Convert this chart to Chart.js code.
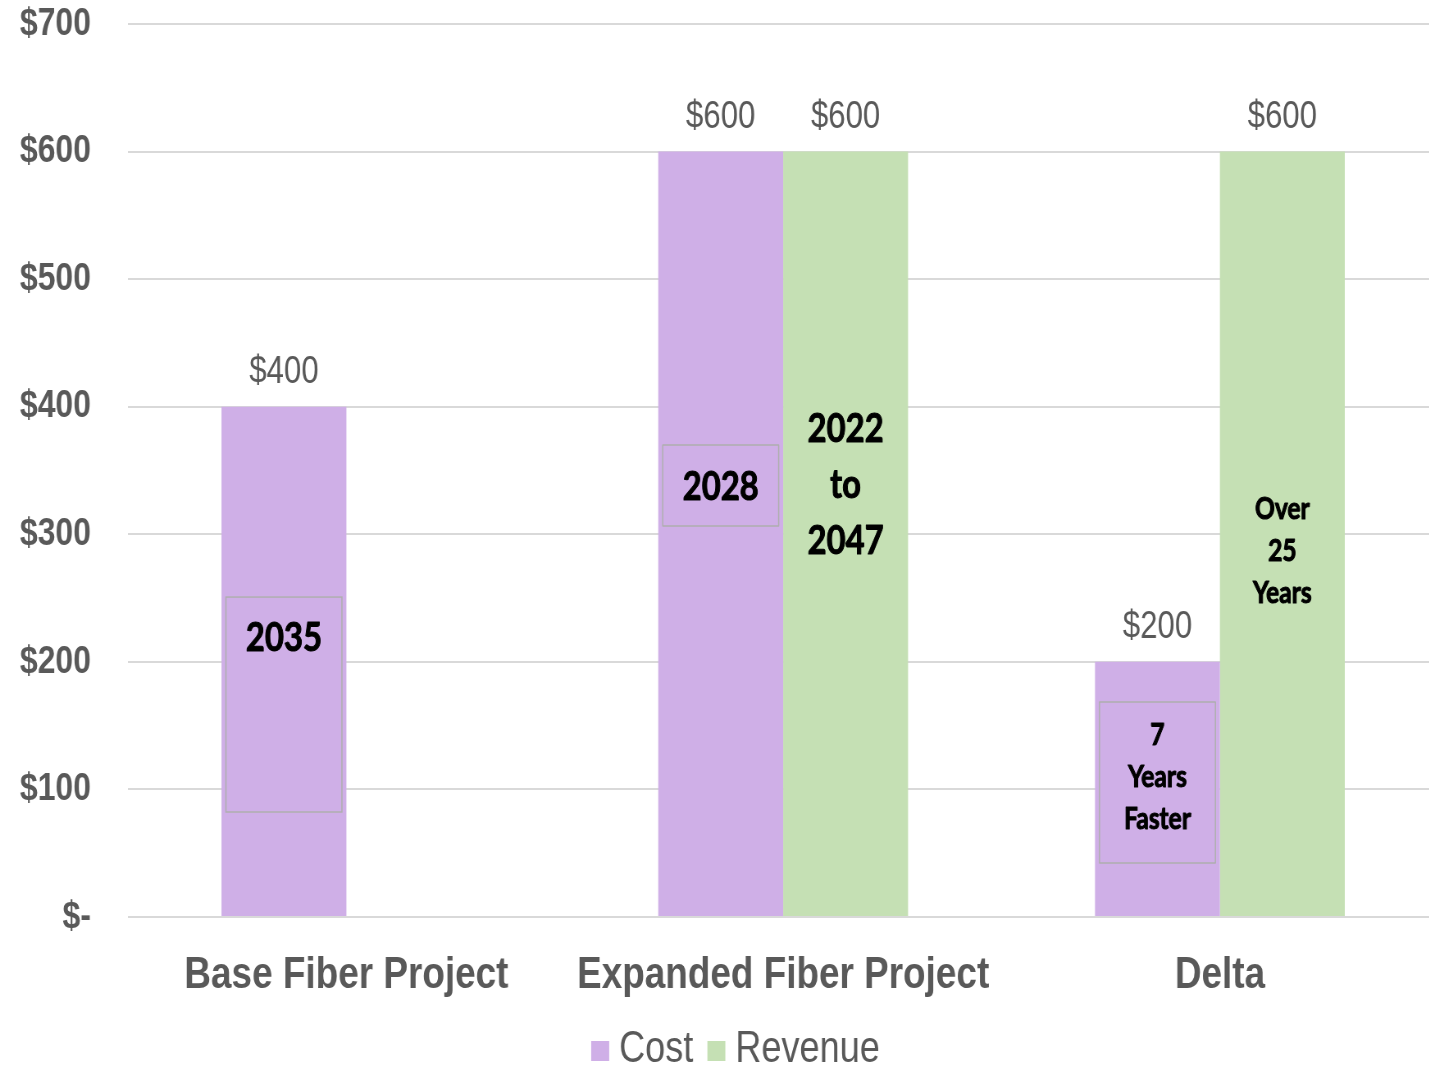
<!DOCTYPE html>
<html>
<head>
<meta charset="utf-8">
<script src="https://cdn.jsdelivr.net/npm/chart.js@4.4.1/dist/chart.umd.min.js"></script>
<style>
  html, body { margin: 0; padding: 0; background: #ffffff; overflow: hidden; width: 1429px; height: 1066px; }
  canvas { display: block; transform: scaleX(0.82); transform-origin: 0 0; }
</style>
</head>
<body>
<canvas id="c" width="1754" height="1066"></canvas>
<script>
// ---- data ----
const categories = ["Base Fiber Project", "Expanded Fiber Project", "Delta"];
const costValues = [400, 600, 200];
const revenueValues = [null, 600, 600];
const seriesNames = ["Cost", "Revenue"];
const yTickLabels = ["$-", "$100", "$200", "$300", "$400", "$500", "$600", "$700"];
// annotation texts inside bars
const noteBase = ["2035"];
const noteExpandedCost = ["2028"];
const noteExpandedRevenue = ["2022", "to", "2047"];
const noteDeltaCost = ["7", "Years", "Faster"];
const noteDeltaRevenue = ["Over", "25", "Years"];

const FONT = "'Liberation Sans', Arial, sans-serif";
const NOTE_FONT = "Lato, 'Open Sans', sans-serif";
const GREY = "#595959";
const SX = 0.82; // horizontal compression applied to the canvas

// annotation placement (value units for y, bar-relative for x)
const notes = [
  { ds: 0, idx: 0, lines: noteBase, box: [250.8, 82.3], first: 218.4, step: 56, size: 40 },
  { ds: 0, idx: 1, lines: noteExpandedCost, box: [370, 306.5], first: 337, step: 56, size: 40 },
  { ds: 1, idx: 1, lines: noteExpandedRevenue, box: null, first: 382.5, step: 56, size: 40 },
  { ds: 0, idx: 2, lines: noteDeltaCost, box: [168.5, 42.3], first: 142.7, step: 42, size: 30 },
  { ds: 1, idx: 2, lines: noteDeltaRevenue, box: null, first: 319.8, step: 42, size: 30 }
];

const valueLabels = {
  id: 'valueLabels',
  afterDatasetsDraw(chart) {
    const ctx = chart.ctx;
    ctx.save();
    ctx.font = "38px " + FONT;
    ctx.fillStyle = GREY;
    ctx.textAlign = 'center';
    ctx.textBaseline = 'middle';
    chart.data.datasets.forEach((ds, di) => {
      const meta = chart.getDatasetMeta(di);
      meta.data.forEach((el, i) => {
        const v = ds.data[i];
        if (v == null) return;
        ctx.fillText('$' + v, el.x, el.y - 34);
      });
    });
    ctx.restore();
  }
};

const barNotes = {
  id: 'barNotes',
  afterDatasetsDraw(chart) {
    const ctx = chart.ctx;
    const y = chart.scales.y;
    ctx.save();
    notes.forEach(n => {
      const el = chart.getDatasetMeta(n.ds).data[n.idx];
      const half = el.width / 2;
      const cx = el.x;
      if (n.box) {
        const t = y.getPixelForValue(n.box[0]);
        const b = y.getPixelForValue(n.box[1]);
        const inset = 4.5 / SX;
        ctx.strokeStyle = '#AFAFAF';
        ctx.lineWidth = 1.5;
        ctx.strokeRect(cx - half + inset, t, 2 * half - 2 * inset, b - t);
      }
      ctx.fillStyle = '#000000';
      ctx.strokeStyle = '#000000';
      ctx.lineWidth = 1;
      ctx.lineJoin = 'round';
      ctx.font = "bold " + n.size + "px " + NOTE_FONT;
      ctx.textAlign = 'center';
      ctx.textBaseline = 'middle';
      const y0 = y.getPixelForValue(n.first);
      n.lines.forEach((line, k) => {
        ctx.fillText(line, cx, y0 + k * n.step);
        ctx.strokeText(line, cx, y0 + k * n.step);
      });
    });
    ctx.restore();
  }
};

const bottomLegend = {
  id: 'bottomLegend',
  afterDraw(chart) {
    const ctx = chart.ctx;
    ctx.save();
    ctx.font = "44px " + FONT;
    const boxW = 18 / SX, boxH = 20, gap = 10 / SX, itemGap = 14 / SX;
    const items = chart.data.datasets.map(ds => ({ label: ds.label, color: ds.backgroundColor, w: ctx.measureText(ds.label).width }));
    const total = items.reduce((s, it) => s + boxW + gap + it.w, 0) + itemGap * (items.length - 1);
    let x = chart.width * 0.5125 - total / 2 - 2;
    const base = 1062;
    items.forEach(it => {
      ctx.fillStyle = it.color;
      ctx.fillRect(x, base - boxH - 1, boxW, boxH);
      x += boxW + gap;
      ctx.fillStyle = GREY;
      ctx.textAlign = 'left';
      ctx.textBaseline = 'alphabetic';
      ctx.fillText(it.label, x, base);
      x += it.w + itemGap;
    });
    ctx.restore();
  }
};

new Chart(document.getElementById('c'), {
  type: 'bar',
  data: {
    labels: categories,
    datasets: [
      { label: seriesNames[0], data: costValues, backgroundColor: '#CFAFE7', borderWidth: 0 },
      { label: seriesNames[1], data: revenueValues, backgroundColor: '#C5E0B4', borderWidth: 0 }
    ]
  },
  options: {
    responsive: false,
    animation: false,
    devicePixelRatio: 1,
    layout: { padding: { top: 24, right: 0, bottom: 54, left: 0 } },
    datasets: { bar: { barPercentage: 1.0, categoryPercentage: 0.572 } },
    scales: {
      x: {
        afterFit(scale) { scale.height = 95; scale.paddingLeft = 0; scale.paddingRight = 0; scale.paddingTop = 0; scale.paddingBottom = 0; },
        grid: { display: false, drawTicks: false },
        border: { display: false },
        ticks: { color: GREY, font: { family: FONT, size: 45, weight: 'bold' }, padding: 32, maxRotation: 0, minRotation: 0, autoSkip: false }
      },
      y: {
        min: 0, max: 700,
        afterFit(scale) { scale.width = 128 / SX; scale.paddingTop = 0; scale.paddingBottom = 0; },
        grid: { color: '#D9D9D9', lineWidth: 2, drawTicks: false },
        border: { display: false },
        ticks: {
          stepSize: 100,
          color: GREY,
          padding: 37 / SX,
          font: { family: FONT, size: 39, weight: 'bold' },
          callback: (v) => yTickLabels[Math.round(v / 100)]
        }
      }
    },
    plugins: {
      tooltip: { enabled: false },
      legend: { display: false }
    }
  },
  plugins: [valueLabels, barNotes, bottomLegend]
});
</script>
</body>
</html>
